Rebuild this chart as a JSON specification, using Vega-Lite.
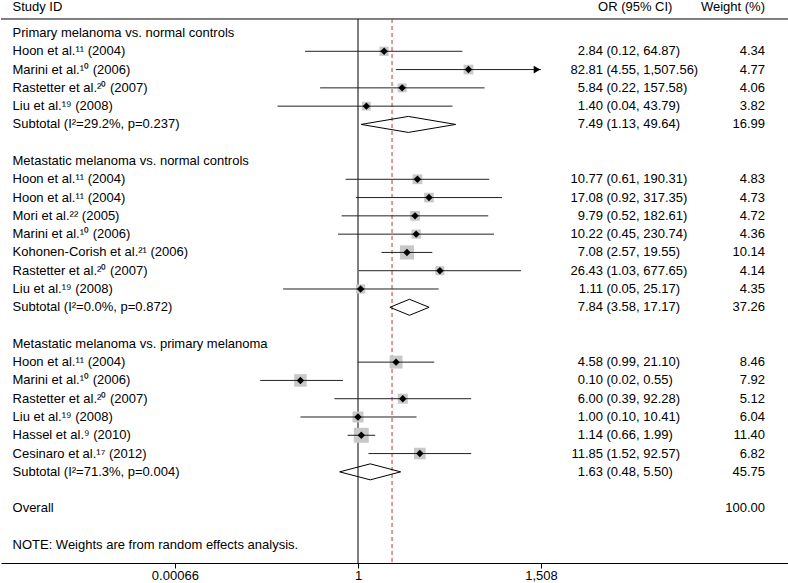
{
  "$schema": "https://vega.github.io/schema/vega-lite/v6.json",
  "width": 788,
  "height": 563,
  "padding": 0,
  "config": {
    "view": {"stroke": null},
    "font": "Liberation Sans",
    "text": {"font": "Liberation Sans", "fontSize": 13, "color": "#000000", "baseline": "middle"},
    "axis": {"labelFont": "Liberation Sans", "labelFontSize": 13, "labelColor": "#000000", "domainColor": "#000000", "tickColor": "#000000", "tickSize": 5, "labelPadding": 1, "grid": false, "domainWidth": 1, "tickWidth": 1}
  },
  "datasets": {
    "rows": [
      {"row": 0, "label": "Primary melanoma vs. normal controls", "kind": "header"},
      {"row": 1, "label": "Hoon et al.¹¹ (2004)", "kind": "study", "est": 2.84, "lower": 0.12, "upper": 64.87, "weight": 4.34, "or": "2.84", "ci": "(0.12, 64.87)", "wt": "4.34"},
      {"row": 2, "label": "Marini et al.¹⁰ (2006)", "kind": "study", "est": 82.81, "lower": 4.55, "upper": 1507.56, "weight": 4.77, "or": "82.81", "ci": "(4.55, 1,507.56)", "wt": "4.77"},
      {"row": 3, "label": "Rastetter et al.²⁰ (2007)", "kind": "study", "est": 5.84, "lower": 0.22, "upper": 157.58, "weight": 4.06, "or": "5.84", "ci": "(0.22, 157.58)", "wt": "4.06"},
      {"row": 4, "label": "Liu et al.¹⁹ (2008)", "kind": "study", "est": 1.40, "lower": 0.04, "upper": 43.79, "weight": 3.82, "or": "1.40", "ci": "(0.04, 43.79)", "wt": "3.82"},
      {"row": 5, "label": "Subtotal (I²=29.2%, p=0.237)", "kind": "subtotal", "est": 7.49, "lower": 1.13, "upper": 49.64, "weight": 16.99, "or": "7.49", "ci": "(1.13, 49.64)", "wt": "16.99"},
      {"row": 7, "label": "Metastatic melanoma vs. normal controls", "kind": "header"},
      {"row": 8, "label": "Hoon et al.¹¹ (2004)", "kind": "study", "est": 10.77, "lower": 0.61, "upper": 190.31, "weight": 4.83, "or": "10.77", "ci": "(0.61, 190.31)", "wt": "4.83"},
      {"row": 9, "label": "Hoon et al.¹¹ (2004)", "kind": "study", "est": 17.08, "lower": 0.92, "upper": 317.35, "weight": 4.73, "or": "17.08", "ci": "(0.92, 317.35)", "wt": "4.73"},
      {"row": 10, "label": "Mori et al.²² (2005)", "kind": "study", "est": 9.79, "lower": 0.52, "upper": 182.61, "weight": 4.72, "or": "9.79", "ci": "(0.52, 182.61)", "wt": "4.72"},
      {"row": 11, "label": "Marini et al.¹⁰ (2006)", "kind": "study", "est": 10.22, "lower": 0.45, "upper": 230.74, "weight": 4.36, "or": "10.22", "ci": "(0.45, 230.74)", "wt": "4.36"},
      {"row": 12, "label": "Kohonen-Corish et al.²¹ (2006)", "kind": "study", "est": 7.08, "lower": 2.57, "upper": 19.55, "weight": 10.14, "or": "7.08", "ci": "(2.57, 19.55)", "wt": "10.14"},
      {"row": 13, "label": "Rastetter et al.²⁰ (2007)", "kind": "study", "est": 26.43, "lower": 1.03, "upper": 677.65, "weight": 4.14, "or": "26.43", "ci": "(1.03, 677.65)", "wt": "4.14"},
      {"row": 14, "label": "Liu et al.¹⁹ (2008)", "kind": "study", "est": 1.11, "lower": 0.05, "upper": 25.17, "weight": 4.35, "or": "1.11", "ci": "(0.05, 25.17)", "wt": "4.35"},
      {"row": 15, "label": "Subtotal (I²=0.0%, p=0.872)", "kind": "subtotal", "est": 7.84, "lower": 3.58, "upper": 17.17, "weight": 37.26, "or": "7.84", "ci": "(3.58, 17.17)", "wt": "37.26"},
      {"row": 17, "label": "Metastatic melanoma vs. primary melanoma", "kind": "header"},
      {"row": 18, "label": "Hoon et al.¹¹ (2004)", "kind": "study", "est": 4.58, "lower": 0.99, "upper": 21.10, "weight": 8.46, "or": "4.58", "ci": "(0.99, 21.10)", "wt": "8.46"},
      {"row": 19, "label": "Marini et al.¹⁰ (2006)", "kind": "study", "est": 0.10, "lower": 0.02, "upper": 0.55, "weight": 7.92, "or": "0.10", "ci": "(0.02, 0.55)", "wt": "7.92"},
      {"row": 20, "label": "Rastetter et al.²⁰ (2007)", "kind": "study", "est": 6.00, "lower": 0.39, "upper": 92.28, "weight": 5.12, "or": "6.00", "ci": "(0.39, 92.28)", "wt": "5.12"},
      {"row": 21, "label": "Liu et al.¹⁹ (2008)", "kind": "study", "est": 1.00, "lower": 0.10, "upper": 10.41, "weight": 6.04, "or": "1.00", "ci": "(0.10, 10.41)", "wt": "6.04"},
      {"row": 22, "label": "Hassel et al.⁹ (2010)", "kind": "study", "est": 1.14, "lower": 0.66, "upper": 1.99, "weight": 11.40, "or": "1.14", "ci": "(0.66, 1.99)", "wt": "11.40"},
      {"row": 23, "label": "Cesinaro et al.¹⁷ (2012)", "kind": "study", "est": 11.85, "lower": 1.52, "upper": 92.57, "weight": 6.82, "or": "11.85", "ci": "(1.52, 92.57)", "wt": "6.82"},
      {"row": 24, "label": "Subtotal (I²=71.3%, p=0.004)", "kind": "subtotal", "est": 1.63, "lower": 0.48, "upper": 5.50, "weight": 45.75, "or": "1.63", "ci": "(0.48, 5.50)", "wt": "45.75"},
      {"row": 26, "label": "Overall", "kind": "overall", "weight": 100.00, "wt": "100.00"},
      {"row": 28, "label": "NOTE: Weights are from random effects analysis.", "kind": "note"}
    ],
    "one": [{"overall": 3.9}]
  },
  "data": {"name": "rows"},
  "layer": [
    {
      "data": {"name": "one"},
      "mark": {"type": "rule", "color": "#000000", "strokeWidth": 1},
      "encoding": {
        "y": {"datum": -0.766, "type": "quantitative", "scale": {"domain": [-1.805, 28.985], "reverse": true, "nice": false, "zero": false}, "axis": null}
      }
    },
    {
      "data": {"name": "one"},
      "mark": {"type": "rule", "color": "#000000", "strokeWidth": 1},
      "encoding": {
        "x": {"datum": 1, "type": "quantitative", "scale": {"type": "log", "domain": [6.3096e-7, 3.055e7], "nice": false},
          "axis": {"values": [0.00066, 1, 1508], "title": null, "labelExpr": "datum.value < 0.01 ? '0.00066' : (datum.value < 10 ? '1' : '1,508')", "labelFlush": false, "labelOverlap": false}},
        "y": {"datum": -0.766, "type": "quantitative"},
        "y2": {"datum": 28.985}
      }
    },
    {
      "data": {"name": "one"},
      "mark": {"type": "rule", "color": "#c0392b", "strokeWidth": 1, "strokeDash": [4, 3]},
      "encoding": {
        "x": {"field": "overall", "type": "quantitative"},
        "y": {"datum": -0.766, "type": "quantitative"},
        "y2": {"datum": 28.985}
      }
    },
    {
      "transform": [{"filter": "datum.kind === 'study'"}],
      "mark": {"type": "point", "shape": "square", "filled": true, "color": "#c8c8c8", "opacity": 1},
      "encoding": {
        "x": {"field": "est", "type": "quantitative"},
        "y": {"field": "row", "type": "quantitative"},
        "size": {"field": "weight", "type": "quantitative", "scale": {"type": "linear", "domain": [0, 11.4], "range": [0, 225], "zero": true}, "legend": null}
      }
    },
    {
      "transform": [{"filter": "datum.kind === 'study'"}],
      "mark": {"type": "rule", "color": "#222222", "strokeWidth": 1},
      "encoding": {
        "x": {"field": "lower", "type": "quantitative"},
        "x2": {"field": "upper"},
        "y": {"field": "row", "type": "quantitative"}
      }
    },
    {
      "transform": [{"filter": "datum.kind === 'study' && datum.upper > 1000"}],
      "mark": {"type": "point", "shape": "triangle-right", "filled": true, "color": "#000000", "size": 60, "opacity": 1, "xOffset": -4},
      "encoding": {
        "x": {"field": "upper", "type": "quantitative"},
        "y": {"field": "row", "type": "quantitative"}
      }
    },
    {
      "transform": [{"filter": "datum.kind === 'study'"}],
      "mark": {"type": "point", "shape": "diamond", "filled": true, "color": "#000000", "size": 55, "opacity": 1},
      "encoding": {
        "x": {"field": "est", "type": "quantitative"},
        "y": {"field": "row", "type": "quantitative"}
      }
    },
    {
      "transform": [{"filter": "datum.kind === 'subtotal'"}],
      "mark": {"type": "rule", "color": "#000000", "strokeWidth": 1, "y2Offset": -8},
      "encoding": {
        "x": {"field": "lower", "type": "quantitative"},
        "x2": {"field": "est"},
        "y": {"field": "row", "type": "quantitative"},
        "y2": {"field": "row"}
      }
    },
    {
      "transform": [{"filter": "datum.kind === 'subtotal'"}],
      "mark": {"type": "rule", "color": "#000000", "strokeWidth": 1, "y2Offset": 8},
      "encoding": {
        "x": {"field": "lower", "type": "quantitative"},
        "x2": {"field": "est"},
        "y": {"field": "row", "type": "quantitative"},
        "y2": {"field": "row"}
      }
    },
    {
      "transform": [{"filter": "datum.kind === 'subtotal'"}],
      "mark": {"type": "rule", "color": "#000000", "strokeWidth": 1, "yOffset": -8},
      "encoding": {
        "x": {"field": "est", "type": "quantitative"},
        "x2": {"field": "upper"},
        "y": {"field": "row", "type": "quantitative"},
        "y2": {"field": "row"}
      }
    },
    {
      "transform": [{"filter": "datum.kind === 'subtotal'"}],
      "mark": {"type": "rule", "color": "#000000", "strokeWidth": 1, "yOffset": 8},
      "encoding": {
        "x": {"field": "est", "type": "quantitative"},
        "x2": {"field": "upper"},
        "y": {"field": "row", "type": "quantitative"},
        "y2": {"field": "row"}
      }
    },
    {
      "mark": {"type": "text", "align": "left"},
      "encoding": {
        "x": {"datum": 1e-6, "type": "quantitative"},
        "y": {"field": "row", "type": "quantitative"},
        "text": {"field": "label"}
      }
    },
    {
      "transform": [{"filter": "isValid(datum.or)"}],
      "mark": {"type": "text", "align": "right"},
      "encoding": {
        "x": {"datum": 18000, "type": "quantitative"},
        "y": {"field": "row", "type": "quantitative"},
        "text": {"field": "or"}
      }
    },
    {
      "transform": [{"filter": "isValid(datum.ci)"}],
      "mark": {"type": "text", "align": "left"},
      "encoding": {
        "x": {"datum": 20600, "type": "quantitative"},
        "y": {"field": "row", "type": "quantitative"},
        "text": {"field": "ci"}
      }
    },
    {
      "transform": [{"filter": "isValid(datum.wt)"}],
      "mark": {"type": "text", "align": "right"},
      "encoding": {
        "x": {"datum": 1.17e7, "type": "quantitative"},
        "y": {"field": "row", "type": "quantitative"},
        "text": {"field": "wt"}
      }
    },
    {
      "data": {"name": "one"},
      "mark": {"type": "text", "align": "left", "text": "Study ID"},
      "encoding": {
        "x": {"datum": 1e-6, "type": "quantitative"},
        "y": {"datum": -1.42, "type": "quantitative"}
      }
    },
    {
      "data": {"name": "one"},
      "mark": {"type": "text", "align": "left", "text": "OR (95% CI)"},
      "encoding": {
        "x": {"datum": 14730, "type": "quantitative"},
        "y": {"datum": -1.42, "type": "quantitative"}
      }
    },
    {
      "data": {"name": "one"},
      "mark": {"type": "text", "align": "right", "text": "Weight (%)"},
      "encoding": {
        "x": {"datum": 1.17e7, "type": "quantitative"},
        "y": {"datum": -1.42, "type": "quantitative"}
      }
    }
  ]
}
